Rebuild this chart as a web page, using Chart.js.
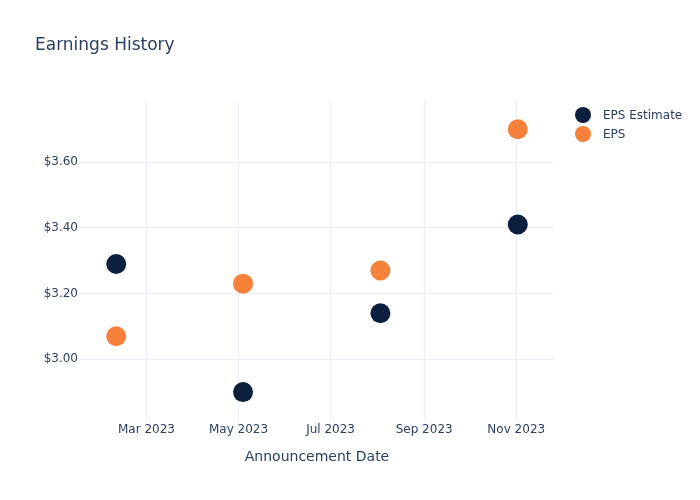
<!DOCTYPE html>
<html>
<head>
<meta charset="utf-8">
<script src="https://cdn.jsdelivr.net/npm/chart.js@4"></script>
<style>
html,body{margin:0;padding:0;background:#fff;}
#wrap{position:relative;width:700px;height:500px;}
</style>
</head>
<body>
<div id="wrap"><canvas id="c" width="700" height="500"></canvas></div>
<script>
// ---- data ----
const dates = ["2023-02-09", "2023-05-04", "2023-08-03", "2023-11-02"];
const epsEstimate = [3.29, 2.90, 3.14, 3.41];
const eps = [3.07, 3.23, 3.27, 3.70];
const xTickDates = ["2023-03-01", "2023-05-01", "2023-07-01", "2023-09-01", "2023-11-01"];
const xTickLabels = ["Mar 2023", "May 2023", "Jul 2023", "Sep 2023", "Nov 2023"];
const yTickValues = [3.00, 3.20, 3.40, 3.60];
const seriesNames = ["EPS Estimate", "EPS"];
const titleText = "Earnings History";
const xAxisTitle = "Announcement Date";

const FONT = "'DejaVu Sans', 'Open Sans', sans-serif";
const TXT = "#2a3f5f";
const GRID = "#ebf0f8";
const colors = ["#0c1f3f", "#f5813a"];

const ts = d => Date.parse(d + "T00:00:00Z");
const mk = vals => vals.map((v, i) => ({x: ts(dates[i]), y: v}));

const overlay = {
  id: 'overlay',
  afterDraw(chart) {
    const ctx = chart.ctx;
    const ca = chart.chartArea;
    ctx.save();
    // title
    ctx.fillStyle = TXT;
    ctx.font = "17px " + FONT;
    ctx.textAlign = "left";
    ctx.textBaseline = "middle";
    ctx.fillText(titleText, 35, 46);
    // x axis title
    ctx.font = "14px " + FONT;
    ctx.textAlign = "center";
    ctx.fillText(xAxisTitle, (ca.left + ca.right) / 2, 457);
    // legend
    ctx.font = "12px " + FONT;
    ctx.textAlign = "left";
    seriesNames.forEach((n, i) => {
      const y = 115 + i * 19;
      ctx.beginPath();
      ctx.arc(583, y, 8, 0, Math.PI * 2);
      ctx.fillStyle = colors[i];
      ctx.fill();
      ctx.fillStyle = TXT;
      ctx.fillText(n, 603, y + 1);
    });
    ctx.restore();
  }
};

new Chart(document.getElementById('c'), {
  type: 'scatter',
  data: {
    datasets: [
      {label: seriesNames[0], data: mk(epsEstimate), backgroundColor: colors[0], borderColor: colors[0], pointRadius: 10, pointHoverRadius: 10, borderWidth: 0},
      {label: seriesNames[1], data: mk(eps), backgroundColor: colors[1], borderColor: colors[1], pointRadius: 10, pointHoverRadius: 10, borderWidth: 0}
    ]
  },
  options: {
    responsive: false,
    animation: false,
    devicePixelRatio: 1,
    layout: {padding: {left: 0, top: 101, right: 146, bottom: 0}},
    plugins: {legend: {display: false}, title: {display: false}, tooltip: {enabled: false}},
    scales: {
      x: {
        type: 'linear',
        min: ts("2023-01-16"),
        max: ts("2023-11-26"),
        grid: {color: GRID, drawTicks: false, lineWidth: 1},
        border: {display: false},
        afterBuildTicks: s => { s.ticks = xTickDates.map(d => ({value: ts(d)})); },
        afterFit: s => { s.height = 79; },
        ticks: {
          color: TXT, font: {family: FONT, size: 12}, padding: 2, maxRotation: 0, autoSkip: false,
          callback: (v, i) => xTickLabels[i]
        }
      },
      y: {
        type: 'linear',
        min: 2.812,
        max: 3.786,
        grid: {color: GRID, drawTicks: false, lineWidth: 1},
        border: {display: false},
        afterBuildTicks: s => { s.ticks = yTickValues.map(v => ({value: v})); },
        afterFit: s => { s.width = 80; },
        ticks: {
          color: TXT, font: {family: FONT, size: 12}, padding: 2, autoSkip: false,
          callback: v => "$" + Number(v).toFixed(2)
        }
      }
    }
  },
  plugins: [overlay]
});
</script>
</body>
</html>
